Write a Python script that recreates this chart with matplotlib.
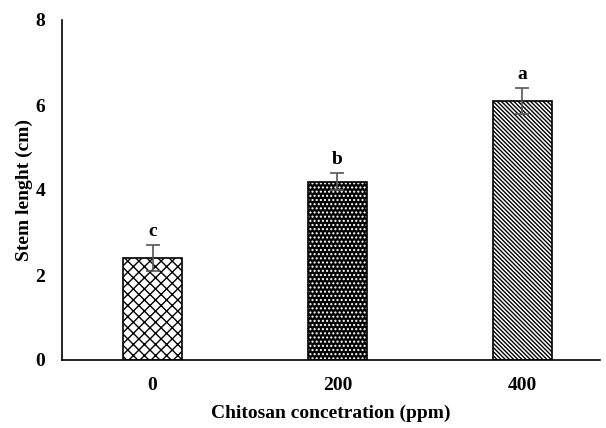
import numpy as np
import matplotlib.pyplot as plt

plt.rcParams['font.family'] = 'Liberation Serif'
plt.rcParams['font.weight'] = 'bold'
plt.rcParams['hatch.linewidth'] = 1.0

cats = ['0', '200', '400']
vals = [2.4, 4.2, 6.1]
errs = [0.3, 0.2, 0.3]
letters = ['c', 'b', 'a']

fig = plt.figure(figsize=(6.06, 4.28), dpi=100)
ax = fig.add_axes([62/606, 1-360/428, 538/606, 340/428])

x = np.arange(len(cats))
w = 0.32
styles = [('white', 'black', 'xxx'), ('black', 'white', '....'), ('white', 'black', '\\' * 8)]
for i in range(len(cats)):
    fc, hc, h = styles[i]
    ax.bar(x[i], vals[i], w, color=fc, edgecolor=hc, hatch=h, linewidth=0)
    ax.bar(x[i], vals[i], w, fill=False, edgecolor='black', linewidth=1.2)
ax.errorbar(x, vals, yerr=errs, fmt='none', ecolor='#555555',
            elinewidth=1.2, capsize=5, capthick=1.2)
for i in range(len(cats)):
    ax.text(x[i], vals[i] + errs[i] + 0.12, letters[i], ha='center', va='bottom',
            fontsize=14, fontweight='bold')

ax.set_xlim(-0.49, 2.42)
ax.set_ylim(0, 8)
ax.set_yticks([0, 2, 4, 6, 8])
ax.set_xticks(x)
ax.set_xticklabels(cats)
ax.tick_params(length=0, labelsize=14, pad=12)
for s in ['top', 'right']:
    ax.spines[s].set_visible(False)
ax.spines['left'].set_linewidth(1.2)
ax.spines['bottom'].set_linewidth(1.2)
ax.set_ylabel('Stem lenght (cm)', fontsize=14, fontweight='bold', labelpad=2)
ax.set_xlabel('Chitosan concetration (ppm)', fontsize=14, fontweight='bold', labelpad=8)

fig.savefig('out.png', dpi=100)
